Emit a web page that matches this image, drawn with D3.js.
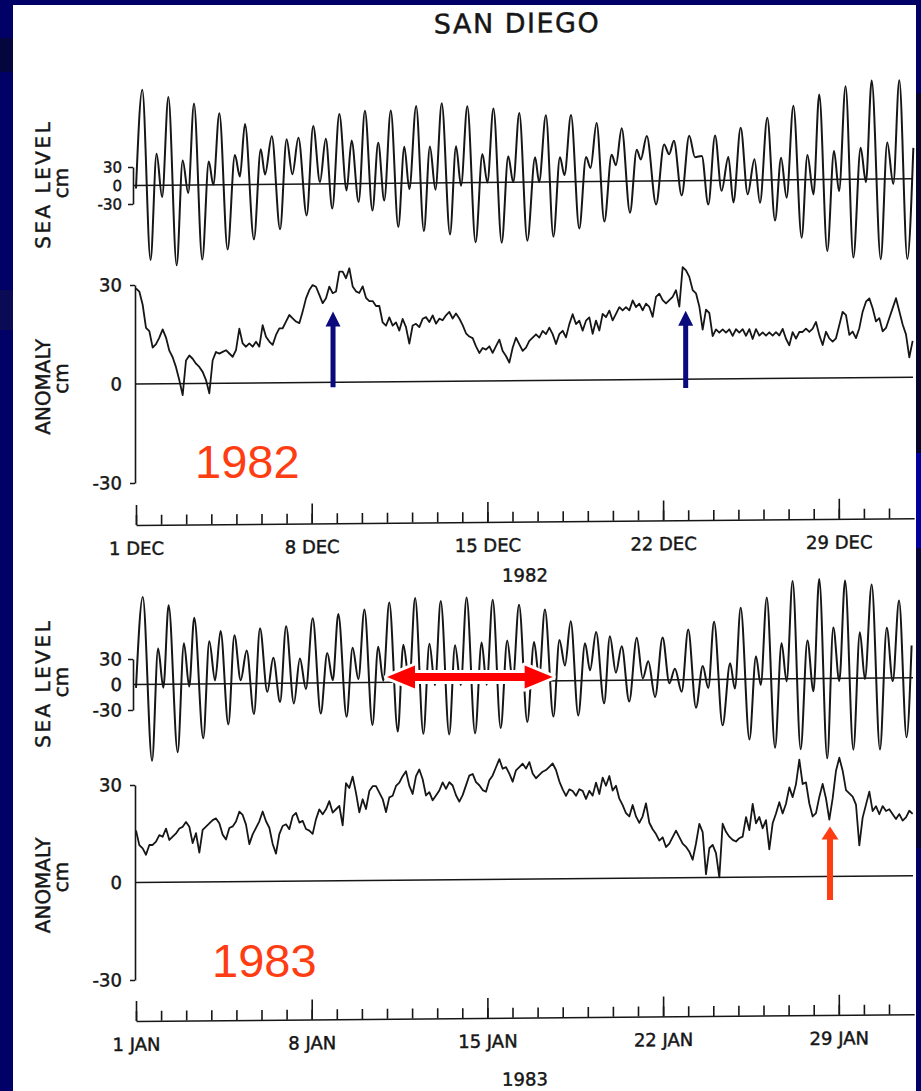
<!DOCTYPE html>
<html>
<head>
<meta charset="utf-8">
<script src="https://cdn.jsdelivr.net/npm/d3@7"></script>
<style>
body { margin: 0; background: #000066; }
#container { width: 921px; height: 1091px; }
svg text { font-family: "DejaVu Sans", sans-serif; }
</style>
</head>
<body>
<div id="container"></div>
<script>

var width = 921;
var height = 1091;

// tick labels
var yTicks = [-30, 0, 30];
var dayTicks = d3.range(0, 31);
var weekTicks = [0, 7, 14, 21, 28];
var decLabels = ['1 DEC', '8 DEC', '15 DEC', '22 DEC', '29 DEC'];
var janLabels = ['1 JAN', '8 JAN', '15 JAN', '22 JAN', '29 JAN'];

// sea level, high and low waters: [day since 1st 00h, cm]
var tideDec = [[0,-5],[0.25,155],[0.58,-121],[0.82,51],[1.04,-19],[1.29,143],[1.62,-130],[1.86,40],[2.08,-13],[2.31,132],
	[2.64,-121],[2.90,38],[3.08,0],[3.32,116],[3.65,-105],[3.94,48],[4.14,13],[4.34,98],[4.70,-89],[4.97,57],
	[5.14,16],[5.41,78],[5.74,-73],[6.00,73],[6.23,16],[6.47,75],[6.80,-51],[7.06,94],[7.33,3],[7.56,73],
	[7.82,-40],[8.10,113],[8.39,-11],[8.59,70],[8.87,-30],[9.12,118],[9.42,-44],[9.65,66],[9.89,-28],[10.15,118],
	[10.45,-71],[10.69,59],[10.89,-10],[11.16,125],[11.47,-78],[11.71,59],[11.93,-11],[12.18,129],[12.51,-84],[12.75,59],
	[12.95,-5],[13.20,124],[13.53,-97],[13.80,46],[14.00,0],[14.24,120],[14.57,-98],[14.83,42],[15.03,0],[15.27,112],
	[15.59,-95],[15.90,40],[16.06,0],[16.33,108],[16.63,-89],[16.89,40],[17.07,11],[17.33,108],[17.66,-76],[17.93,40],
	[18.11,22],[18.35,95],[18.66,-65],[18.95,43],[19.12,26],[19.35,86],[19.68,-51],[19.95,51],[20.11,35],[20.35,73],
	[20.72,-38],[21.04,59],[21.24,43],[21.43,65],[21.74,-24],[22.04,73],[22.27,38],[22.54,40],[22.80,-39],[23.07,73],
	[23.33,-17],[23.60,38],[23.80,-36],[24.09,85],[24.37,-23],[24.64,34],[24.86,-37],[25.15,101],[25.46,-66],[25.70,36],
	[25.92,-29],[26.19,120],[26.52,-94],[26.75,40],[26.99,-24],[27.22,138],[27.54,-116],[27.81,46],[28.01,-19],[28.27,151],
	[28.58,-127],[28.87,51],[29.08,-5],[29.31,160],[29.67,-130],[29.93,59],[30.17,-8],[30.41,160],[30.73,-130],[30.97,50]];

var tideJan = [[0,-4],[0.27,103],[0.64,-90],[0.88,42],[1.09,-4],[1.30,93],[1.66,-80],[1.91,48],[2.12,-3],[2.32,78],
	[2.68,-64],[2.92,50],[3.15,4],[3.37,62],[3.68,-48],[3.92,57],[4.17,4],[4.41,39],[4.70,-36],[4.94,65],
	[5.23,-10],[5.47,30],[5.74,-22],[5.98,67],[6.29,-24],[6.53,29],[6.77,-7],[7.04,76],[7.36,-36],[7.62,35],
	[7.84,3],[8.06,81],[8.39,-40],[8.63,41],[8.86,4],[9.10,86],[9.42,-50],[9.65,42],[9.85,2],[10.09,94],
	[10.43,-58],[10.65,44],[10.89,0],[11.12,99],[11.45,-61],[11.69,45],[11.91,-4],[12.14,95],[12.48,-62],[12.71,43],
	[12.94,-4],[13.17,99],[13.51,-61],[13.77,46],[13.97,-4],[14.21,96],[14.53,-55],[14.79,48],[15.01,0],[15.26,90],
	[15.59,-48],[15.86,46],[16.06,4],[16.29,84],[16.63,-42],[16.87,48],[17.09,18],[17.32,70],[17.62,-41],[17.89,44],
	[18.09,12],[18.33,57],[18.65,-27],[18.88,52],[19.12,9],[19.35,40],[19.65,-25],[19.95,50],[20.19,2],[20.41,22],
	[20.68,-20],[20.98,50],[21.25,-4],[21.47,13],[21.74,-14],[22.00,59],[22.31,-33],[22.58,16],[22.80,-10],[23.03,68],
	[23.37,-54],[23.67,19],[23.86,-11],[24.09,84],[24.44,-71],[24.70,27],[24.89,-7],[25.13,96],[25.46,-81],[25.72,42],
	[25.92,-3],[26.16,115],[26.48,-83],[26.75,45],[26.99,-15],[27.22,117],[27.54,-94],[27.78,60],[28.02,-3],[28.25,115],
	[28.58,-84],[28.84,54],[29.04,-1],[29.31,110],[29.64,-84],[29.91,59],[30.15,-4],[30.40,91],[30.70,-70],[30.90,38]];

// sea level anomaly, cm, one reading every ~3.2 hours from the 1st
var anomStep = 0.1328; // days
var anomDec = [29,28,24,17,16,11,12,14,16.5,14, 10,8,5,1,-3.5,7,8.5,7.5,6,5,
	3.5,1,-3,7,9.5,9,9.5,10,9,8, 10,16.5,12,11,12,11,12.5,11,17.5,14,
	12.5,11.5,14.5,16.5,16.5,18.5,20.5,19.5,18.5,18, 21.5,25.5,28,29.5,29,26.5,24,25.5,29,27,
	27.5,33.5,33.5,31.5,34.5,29,27.5,27,29,25.5, 24.5,24.5,23,23,18,17,19.5,17,18,15.5,
	19,16.5,11.5,17,17.5,16.5,19,19.5,18,20, 17.5,19,18.5,20,21,19,20.5,19,17,14.5,
	13.5,13,10.5,8.5,10,9.5,10.5,8.5,10.5,12.5, 9,7.5,5.5,10,13,11,9,10,
	12,13,14,13,15,14,16,14,11,14, 15,13,17,20,17,18,15,18,19,14,
	18,15,20,19,21,18,20,22,21,22, 21,24,22,23,21,23,22,19,25,26,
	24,23,24,25,27,22,34,33,31,27, 26,22,15,21,20,13,15,14,15,14,
	15,13,15,14,15,13,15,12,15,13, 14,13,14,13,14,13,15,12,10,14,
	12,14,14,15,14,15,17,13,10,14, 12,11,12,16,20,19,13,14,12,15,
	20,23,24,21,17,18,14,15,18,21, 24,20,16,13,6,11];

var anomJan = [16,11.5,10.5,8.5,11.5,11.5,12.5,14.5,14,16.5, 13,14,15,16.5,17,18.5,17,12,15,9,
	16,17,18,19,19.5,18,14.5,13,16.5,17, 18.5,21.5,20.5,17.5,11.5,14.5,16.5,18.5,21.5,18.5,
	16.5,11.5,8.5,14.5,17,17.5,16,20,21,18, 18.5,16,15.5,14.5,19,22,20.5,22,24.5,21,
	22,23,17,30,28.5,32,27,21,25,22, 27.5,29,29,27,25,21,25.5,26,29,30,
	32,33.5,29,26.5,32,34,31,26,27,24.5, 26,27.5,30,28,30,29,26,24,26,29,
	32,32.5,30,29,27.5,27,30.5,32,34.5,37, 34,34.5,32.5,30,33.5,34.5,35.5,34,
	36,32.5,31,32,33,33.5,34.5,35.5,33.5,30, 27.5,25.5,27.5,27,25.5,27.5,27,24.5,27,25.5,
	29.5,26,31,28.5,31.5,27,28.5,24.5,22.5,20, 19,22.5,19,17,19,23,17,15,13.5,11.5,
	12.5,9.5,10.5,12.5,14.5,12.5,10.5,9.5,8,5.5, 10.5,16.5,14,1,9,10,7.5,0,16.5,14,
	12.5,11.5,11,12,12.5,18.5,14.5,22.5,16.5,18.5, 15,17.5,8.5,16.5,19.5,23,19.5,22.5,27.5,24.5,
	28.5,36,28.5,29,22.5,18.5,19.5,24.5,28.5,24, 17.5,24,32.5,36.5,32.5,26.5,25.5,24.5,22,9.5,
	18,22,26,20,21.5,19,21.5,20,20.5,19, 17.5,19,17,18,20,19];

// annotations laid over the figure
var blueArrows = [{day: 7.85, from: -1, to: 22}, {day: 21.9, from: -1.2, to: 22.2}];
var redArrow = {day: 27.65, from: -5.4, to: 17.2};
var spanArrow = {from: 10.0, to: 16.6, level: 8.8};

var ink = '#161616';
var orangeRed = '#ff3d12';

var svg = d3.select('#container')
	.append('svg')
	.attr('width', width)
	.attr('height', height);

// slide background and the white scan
svg.append('rect').attr('width', width).attr('height', height).style('fill', '#000066');
svg.append('rect').attr('x', 0).attr('y', 38).attr('width', 13).attr('height', 34).style('fill', '#06063f');
svg.append('rect').attr('x', 0).attr('y', 290).attr('width', 13).attr('height', 40).style('fill', '#0a0a55');
svg.append('rect').attr('x', 916).attr('y', 93).attr('width', 5).attr('height', 360).style('fill', '#06062c');
svg.append('rect').attr('x', 916).attr('y', 453).attr('width', 5).attr('height', 95).style('fill', '#0000a0');
svg.append('rect').attr('x', 916).attr('y', 548).attr('width', 5).attr('height', 300).style('fill', '#05053a');
svg.append('rect').attr('x', 13).attr('y', 5).attr('width', 903).attr('height', 1086).style('fill', '#ffffff');

// the scanned figure is skewed a little
var fig = svg.append('g')
	.attr('transform', 'translate(136,0) skewY(-0.5) translate(-136,0)');

var x = d3.scaleLinear()
	.domain([0, 31])
	.range([136, 136 + 31 * 25.1]);

function inked(sel) {
	return sel.style('fill', ink).style('stroke', ink).style('stroke-width', 0.45);
}

inked(fig.append('text')
	.attr('x', 517)
	.attr('y', 36)
	.attr('text-anchor', 'middle')
	.style('font-size', '27px')
	.style('letter-spacing', '1.5px')
	.text('SAN DIEGO'));

var panels = [
	{tide: tideDec, anom: anomDec, labels: decLabels, year: '1982',
	 sea: [204, 167], seaFont: 15, anomaly: [483, 285], axisY: 525, yearY: 585},
	{tide: tideJan, anom: anomJan, labels: janLabels, year: '1983',
	 sea: [710, 659], seaFont: 18, anomaly: [980, 785], axisY: 1021, yearY: 1089}
];

function sideLabel(g, txt, cx, cy, size, spacing) {
	inked(g.append('text')
		.attr('transform', 'translate(' + cx + ',' + cy + ') rotate(-90)')
		.attr('text-anchor', 'middle')
		.style('font-size', size + 'px')
		.style('letter-spacing', spacing + 'px')
		.text(txt));
}

function styleAxis(g, size) {
	g.selectAll('path, line').style('stroke', ink).style('stroke-width', 1.6);
	inked(g.selectAll('text')
		.style('font-size', (size || 18) + 'px')
		.style('font-family', '"DejaVu Sans", sans-serif'));
}

panels.forEach(function(p) {
	var g = fig.append('g');

	var sy = d3.scaleLinear().domain([-30, 30]).range(p.sea);
	var ay = d3.scaleLinear().domain([-30, 30]).range(p.anomaly);

	// zero lines
	g.append('line')
		.attr('x1', 134).attr('x2', 913)
		.attr('y1', sy(0)).attr('y2', sy(0))
		.style('stroke', ink).style('stroke-width', 1.5);
	g.append('line')
		.attr('x1', 135).attr('x2', 913)
		.attr('y1', ay(0)).attr('y2', ay(0))
		.style('stroke', ink).style('stroke-width', 1.5);

	// sea level curve through highs and lows
	var tideLine = d3.line()
		.x(function(d) { return x(d[0]); })
		.y(function(d) { return sy(d[1]); })
		.curve(d3.curveMonotoneX);

	g.append('path')
		.datum(p.tide)
		.attr('d', tideLine)
		.style('fill', 'none')
		.style('stroke', ink)
		.style('stroke-width', 2)
		.style('stroke-linejoin', 'round');

	var anomLine = d3.line()
		.x(function(d, i) { return x(i * anomStep); })
		.y(function(d) { return ay(d); });

	g.append('path')
		.datum(p.anom)
		.attr('d', anomLine)
		.style('fill', 'none')
		.style('stroke', ink)
		.style('stroke-width', 1.8)
		.style('stroke-linejoin', 'round');

	// y axes
	var seaAxis = g.append('g')
		.attr('transform', 'translate(133,0)')
		.call(d3.axisLeft(sy).tickValues(yTicks).tickSize(5).tickSizeOuter(0).tickPadding(6)
			.tickFormat(function(d) { return String(d); }));
	seaAxis.selectAll('.tick').filter(function(d) { return d === 0; }).select('line').remove();
	styleAxis(seaAxis, p.seaFont);

	var anomAxis = g.append('g')
		.attr('transform', 'translate(135,0)')
		.call(d3.axisLeft(ay).tickValues(yTicks).tickSize(5).tickSizeOuter(0).tickPadding(8)
			.tickFormat(function(d) { return String(d); }));
	anomAxis.selectAll('.tick').filter(function(d) { return d === 0; }).select('line').remove();
	styleAxis(anomAxis);

	var seaMid = sy(0), anomMid = ay(0);
	sideLabel(g, 'SEA LEVEL', 50, seaMid - 2, 20, 2.5);
	sideLabel(g, 'cm', 68, seaMid - 3, 20, 0);
	sideLabel(g, 'ANOMALY', 50, anomMid + 2, 20, 0);
	sideLabel(g, 'cm', 68, anomMid - 6, 20, 0);

	// time axis: day ticks, taller week ticks, labels underneath
	var minor = g.append('g')
		.attr('transform', 'translate(0,' + p.axisY + ')')
		.call(d3.axisTop(x).tickValues(dayTicks).tickSize(10).tickSizeOuter(0).tickFormat(''));
	styleAxis(minor);

	var major = g.append('g')
		.attr('transform', 'translate(0,' + p.axisY + ')')
		.call(d3.axisTop(x).tickValues(weekTicks).tickSize(20).tickSizeOuter(0).tickFormat(''));
	major.select('.domain').remove();
	styleAxis(major);

	var lab = g.append('g')
		.attr('transform', 'translate(0,' + p.axisY + ')')
		.call(d3.axisBottom(x).tickValues(weekTicks).tickSize(0).tickPadding(17)
			.tickFormat(function(d, i) { return p.labels[i]; }));
	lab.select('.domain').remove();
	styleAxis(lab);

	inked(g.append('text')
		.attr('x', 525)
		.attr('y', p.yearY)
		.attr('text-anchor', 'middle')
		.style('font-size', '18px')
		.text(p.year));

	p.sy = sy;
	p.ay = ay;
});

// overlay annotations
function upArrow(cx, y0, y1, sw, hw, hl) {
	return 'M' + (cx - sw / 2) + ',' + y0 + 'V' + (y1 + hl) + 'H' + (cx - hw / 2) +
		'L' + cx + ',' + y1 + 'L' + (cx + hw / 2) + ',' + (y1 + hl) + 'H' + (cx + sw / 2) + 'V' + y0 + 'Z';
}

function doubleArrow(x0, x1, cy, sw, hh, hl) {
	return 'M' + x0 + ',' + cy + 'L' + (x0 + hl) + ',' + (cy - hh / 2) + 'V' + (cy - sw / 2) +
		'H' + (x1 - hl) + 'V' + (cy - hh / 2) + 'L' + x1 + ',' + cy + 'L' + (x1 - hl) + ',' + (cy + hh / 2) +
		'V' + (cy + sw / 2) + 'H' + (x0 + hl) + 'V' + (cy + hh / 2) + 'Z';
}

var notes = svg.append('g');

notes.selectAll('.blue-arrow')
	.data(blueArrows)
	.enter()
	.append('path')
	.attr('class', 'blue-arrow')
	.attr('d', function(d) { return upArrow(x(d.day), panels[0].ay(d.from), panels[0].ay(d.to), 5, 15, 15); })
	.style('fill', '#0a0a7d');

notes.append('path')
	.attr('d', upArrow(x(redArrow.day), panels[1].ay(redArrow.from), panels[1].ay(redArrow.to), 6, 17, 13))
	.style('fill', orangeRed);

notes.append('path')
	.attr('d', doubleArrow(x(spanArrow.from), x(spanArrow.to), panels[1].sy(spanArrow.level), 8, 23, 28))
	.style('fill', '#ff0000')
	.style('stroke', '#ffffff')
	.style('stroke-width', 6)
	.style('stroke-linejoin', 'round')
	.style('paint-order', 'stroke');

notes.append('text')
	.attr('x', 195).attr('y', 478)
	.style('font-family', '"Liberation Sans", Arial, sans-serif')
	.style('font-size', '47px')
	.style('fill', orangeRed)
	.text('1982');

notes.append('text')
	.attr('x', 212).attr('y', 977)
	.style('font-family', '"Liberation Sans", Arial, sans-serif')
	.style('font-size', '47px')
	.style('fill', orangeRed)
	.text('1983');

</script>
</body>
</html>
